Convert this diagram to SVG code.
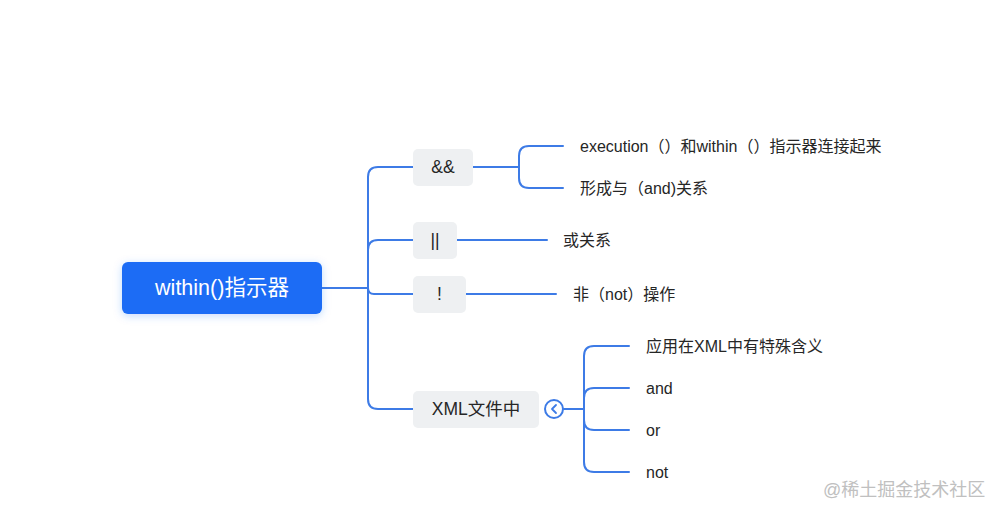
<svg xmlns="http://www.w3.org/2000/svg" width="989" height="506" viewBox="0 0 989 506">
<defs>
<filter id="sh" x="-20%" y="-40%" width="140%" height="180%">
<feDropShadow dx="0" dy="2" stdDeviation="4" flood-color="#1a6cf5" flood-opacity="0.25"/>
</filter>
<style>
.ln{fill:none;stroke:#3d7be6;stroke-width:2;stroke-linecap:round}
.nd{fill:#eef0f2}
.nt{font-family:"Liberation Sans","Noto Sans CJK SC",sans-serif;font-size:17.5px;fill:#262626;text-anchor:middle;dominant-baseline:central}
.lt{font-family:"Liberation Sans","Noto Sans CJK SC",sans-serif;font-size:16px;fill:#262626;dominant-baseline:central}
</style>
</defs>
<rect width="989" height="506" fill="#ffffff"/>
<g id="connectors">
<path class="ln" d="M322,288 H368" stroke-width="3"/>
<path class="ln" d="M368,288 V177 Q368,167 378,167 H413"/>
<path class="ln" d="M368,288 V250 Q368,240 378,240 H413"/>
<path class="ln" d="M368,288 Q368,294 374,294 H413"/>
<path class="ln" d="M368,288 V399 Q368,409 378,409 H413"/>
<path class="ln" d="M473,167 H519" stroke-width="2.5"/>
<path class="ln" d="M519,167 V156 Q519,146 529,146 H563"/>
<path class="ln" d="M519,167 V178 Q519,188 529,188 H563"/>
<path class="ln" d="M457,240 H547"/>
<path class="ln" d="M466,294 H556"/>
<path class="ln" d="M564,409 H584" stroke-width="2.5"/>
<path class="ln" d="M584,409 V356 Q584,346 594,346 H629"/>
<path class="ln" d="M584,409 V398 Q584,388 594,388 H629"/>
<path class="ln" d="M584,409 V420 Q584,430 594,430 H629"/>
<path class="ln" d="M584,409 V462 Q584,472 594,472 H629"/>
</g>
<g id="root">
<rect x="122" y="262" width="200" height="52" rx="6" fill="#1a6cf5" filter="url(#sh)"/>
<text x="222" y="288" font-family="'Liberation Sans','Noto Sans CJK SC',sans-serif" font-size="21.5" fill="#ffffff" text-anchor="middle" dominant-baseline="central">within()指示器</text>
</g>
<g id="n-and">
<rect class="nd" x="413" y="149" width="60" height="37" rx="5"/>
<text class="nt" x="443" y="167">&amp;&amp;</text>
</g>
<g id="n-or">
<rect class="nd" x="413" y="222" width="44" height="37" rx="5"/>
<text class="nt" x="435" y="240">||</text>
</g>
<g id="n-not">
<rect class="nd" x="413" y="276" width="53" height="37" rx="5"/>
<text class="nt" x="439.5" y="294">!</text>
</g>
<g id="n-xml">
<rect class="nd" x="413" y="391" width="126" height="37" rx="5"/>
<text class="nt" x="476" y="409">XML文件中</text>
<circle cx="554" cy="409" r="9" fill="#ffffff" stroke="#3d7be6" stroke-width="2"/>
<path d="M556,405 L552,409 L556,413" fill="none" stroke="#3d7be6" stroke-width="1.8" stroke-linecap="round" stroke-linejoin="round"/>
</g>
<g id="leaf-1"><text class="lt" x="580" y="146">execution（）和within（）指示器连接起来</text></g>
<g id="leaf-2"><text class="lt" x="580" y="188">形成与（and)关系</text></g>
<g id="leaf-3"><text class="lt" x="563" y="240">或关系</text></g>
<g id="leaf-4"><text class="lt" x="573" y="294">非（not）操作</text></g>
<g id="leaf-5"><text class="lt" x="646" y="346">应用在XML中有特殊含义</text></g>
<g id="leaf-6"><text class="lt" x="646" y="388">and</text></g>
<g id="leaf-7"><text class="lt" x="646" y="430">or</text></g>
<g id="leaf-8"><text class="lt" x="646" y="472">not</text></g>
<text x="823" y="490" font-family="'Liberation Sans','Noto Sans CJK SC',sans-serif" font-size="18" fill="#c0c0c0" dominant-baseline="central">@稀土掘金技术社区</text>
</svg>
